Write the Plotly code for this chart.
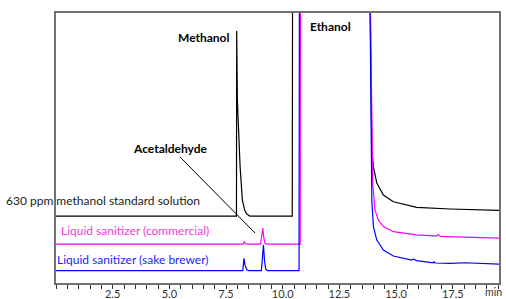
import plotly.graph_objects as go

# ---- data (retention time in min, detector signal in arbitrary units, traces offset) ----
std_time = [0.0, 7.96, 7.97, 8.0, 8.12, 8.22, 8.32, 8.41, 8.55, 10.42, 10.44, 13.81,
            13.93, 14.0, 14.15, 14.44, 14.88, 15.91, 17.38, 19.54]
std_signal = [24.8, 24.8, 93.3, 67.8, 43.1, 30.7, 27.0, 25.6, 24.8, 24.8, 140, 140,
              49.3, 43.1, 37.0, 32.6, 30.1, 28.0, 27.4, 26.9]

com_time = [0.0, 8.26, 8.3, 8.36, 8.44, 9.02, 9.07, 9.12, 9.17, 9.22, 9.3, 10.77, 10.79,
            13.81, 13.97, 14.07, 14.22, 14.44, 14.88, 15.91, 16.79, 16.86, 16.94, 17.38,
            18.4, 19.54]
com_signal = [14.4, 14.4, 15.3, 14.6, 14.4, 14.4, 17.2, 20.3, 16.5, 14.8, 14.4, 14.4, 140,
              140, 36.9, 27.0, 23.3, 20.9, 19.0, 17.8, 17.4, 18.0, 17.3, 17.1,
              16.9, 16.6]

sake_time = [0.0, 8.24, 8.29, 8.34, 8.42, 8.5, 9.06, 9.11, 9.15, 9.2, 9.25, 9.32, 10.72,
             10.74, 13.81, 13.93, 14.0, 14.15, 14.44, 14.88, 15.69, 15.76, 15.91, 16.63,
             16.67, 16.72, 17.38, 18.04, 18.7, 19.54]
sake_signal = [4.6, 4.6, 9.1, 6.5, 4.9, 4.6, 4.6, 9.0, 14.1, 8.0, 5.2, 4.6, 4.6,
               140, 140, 30.7, 20.9, 15.9, 12.2, 10.0, 8.5, 8.8, 8.3, 7.5,
               7.8, 7.4, 7.3, 7.5, 7.2, 7.0]

tick_vals = [2.5, 5.0, 7.5, 10.0, 12.5, 15.0, 17.5]
tick_text = ["2.5", "5.0", "7.5", "10.0", "12.5", "15.0", "17.5"]

FONT = "Lato"
GRAY = "#707070"

fig = go.Figure()
fig.add_trace(go.Scatter(x=std_time, y=std_signal, mode="lines",
                         line=dict(color="#000000", width=1.2), showlegend=False))
fig.add_trace(go.Scatter(x=com_time, y=com_signal, mode="lines",
                         line=dict(color="#ff00ff", width=1.2), showlegend=False))
fig.add_trace(go.Scatter(x=sake_time, y=sake_signal, mode="lines",
                         line=dict(color="#0000ff", width=1.2), showlegend=False))

# leader line for Acetaldehyde
fig.add_shape(type="line", xref="x", yref="y", x0=5.47, y0=46.7, x1=8.78, y1=18.5,
              line=dict(color="#000000", width=1))

bold = dict(family=FONT, size=12, color="#000000")
fig.add_annotation(x=7.72, y=90.9, text="<b>Methanol</b>", showarrow=False,
                   xanchor="right", yanchor="middle", font=bold)
fig.add_annotation(x=5.07, y=50.0, text="<b>Acetaldehyde</b>", showarrow=False,
                   xanchor="center", yanchor="middle", font=bold)
fig.add_annotation(x=11.13, y=94.9, text="<b>Ethanol</b>", showarrow=False,
                   xanchor="left", yanchor="middle", font=bold)
fig.add_annotation(x=6.45, y=30.5, text="630 ppm methanol standard solution",
                   showarrow=False, xanchor="right", yanchor="middle",
                   font=dict(family=FONT, size=12, color="#1a1a1a"))
fig.add_annotation(x=6.85, y=19.4, text="Liquid sanitizer (commercial)",
                   showarrow=False, xanchor="right", yanchor="middle",
                   font=dict(family=FONT, size=12, color="#f03cd8"))
fig.add_annotation(x=6.85, y=8.8, text="Liquid sanitizer (sake brewer)",
                   showarrow=False, xanchor="right", yanchor="middle",
                   font=dict(family=FONT, size=12, color="#1c1cff"))
fig.add_annotation(xref="paper", yref="paper", x=1, y=0, text="min", showarrow=False,
                   xanchor="left", yanchor="bottom", xshift=-15, yshift=-16,
                   borderpad=0,
                   font=dict(family=FONT, size=10.5, color="#333333"))

fig.update_xaxes(range=[0, 19.54], showgrid=False, zeroline=False, automargin=False,
                 showline=True, mirror=True, linecolor=GRAY, linewidth=1.5,
                 tickmode="array", tickvals=tick_vals, ticktext=tick_text,
                 ticks="outside", ticklen=4, tickwidth=1, tickcolor="#333333",
                 ticklabelstandoff=-4,
                 tickfont=dict(family=FONT, size=11, color="#333333"),
                 minor=dict(tickmode="linear", tick0=0, dtick=0.5, ticks="outside",
                            ticklen=4, tickwidth=1, tickcolor="#333333"))
fig.update_yaxes(range=[0, 100], showgrid=False, zeroline=False, automargin=False,
                 showline=True, mirror=True, linecolor=GRAY, linewidth=1.5,
                 showticklabels=False, ticks="")

fig.update_layout(width=506, height=299, margin=dict(l=56, r=7, t=13, b=16),
                  plot_bgcolor="white", paper_bgcolor="white")

fig.write_html("out.html", config={"displayModeBar": False},
               post_script="document.body.style.margin='0';document.body.style.overflow='hidden';")
